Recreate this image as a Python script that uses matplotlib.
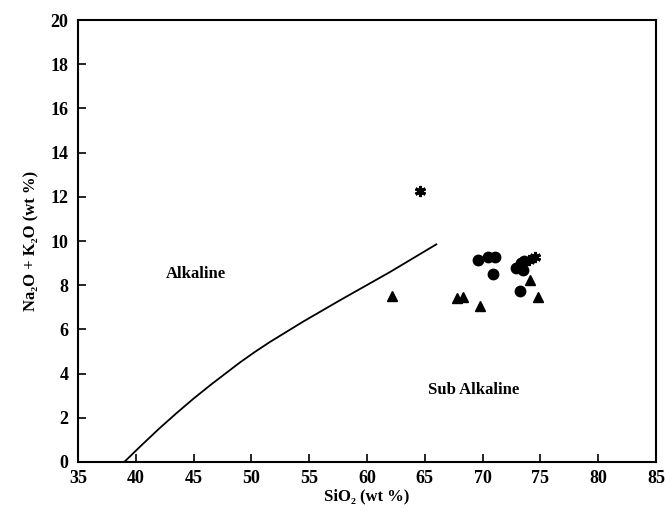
import matplotlib
matplotlib.use("Agg")
from matplotlib import pyplot as plt

plt.rcParams['font.family'] = ['Liberation Serif', 'DejaVu Serif']
plt.rcParams['font.weight'] = 'bold'
plt.rcParams['axes.labelweight'] = 'bold'

# Linea divisoria alcalino / subalcalino
linea_x = [39.0, 40.5, 42.0, 43.5, 45.0, 46.5, 48.0, 49.0, 50.3, 51.6, 54.5, 57.7, 62.0, 66.0]
linea_y = [0.0, 0.76, 1.5, 2.2, 2.87, 3.5, 4.1, 4.5, 4.98, 5.43, 6.36, 7.33, 8.6, 9.85]

# Muestras
circ_x = [69.6, 70.5, 71.1, 70.9, 72.9, 73.3, 73.6, 73.5, 73.2]
circ_y = [9.15, 9.3, 9.3, 8.5, 8.8, 9.0, 9.1, 8.7, 7.75]

tri_x = [62.2, 67.8, 68.3, 69.8, 74.1, 74.8]
tri_y = [7.5, 7.4, 7.45, 7.05, 8.25, 7.45]

star_x = [64.6, 74.0, 74.5]
star_y = [12.25, 9.15, 9.3]

fig = plt.figure(figsize=(6.65, 5.12), dpi=100)
ax = fig.add_axes([0.1173, 0.0977, 0.869, 0.863])

ax.plot(linea_x, linea_y, color='black', linewidth=1.3)
ax.plot(circ_x, circ_y, 'o', color='black', markersize=7.5)
ax.plot(tri_x, tri_y, '^', color='black', markersize=7.5)
ax.plot(star_x, star_y, marker=(6, 2, 0), linestyle='none', color='black',
        markersize=8, markeredgewidth=2.2)

ax.text(45.2, 8.5, 'Alkaline', fontsize=12, ha='center', va='center')
ax.text(69.2, 3.25, 'Sub Alkaline', fontsize=12, ha='center', va='center')

ax.set_xlim(35, 85)
ax.set_ylim(0, 20)
ax.set_xticks(range(35, 86, 5))
ax.set_yticks(range(0, 21, 2))
ax.tick_params(direction='in', length=6, width=1.2, labelsize=13)
ax.tick_params(axis='x', pad=6)
ax.tick_params(axis='y', pad=7)
for s in ax.spines.values():
    s.set_linewidth(1.5)

ax.set_xlabel('SiO₂ (wt %)', fontsize=12, labelpad=1)
ax.set_ylabel('Na₂O + K₂O (wt %)', fontsize=12, labelpad=8)

fig.savefig('out.png', dpi=100)
